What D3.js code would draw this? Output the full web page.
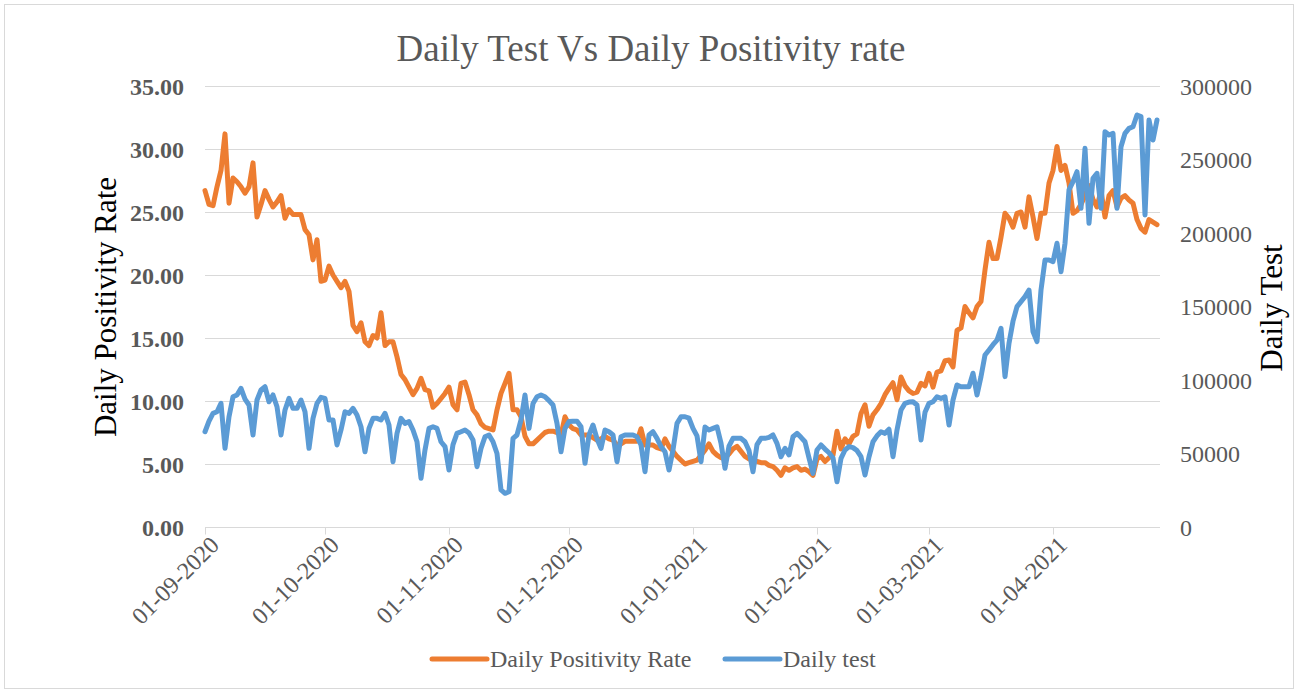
<!DOCTYPE html>
<html>
<head>
<meta charset="utf-8">
<script src="https://cdn.jsdelivr.net/npm/d3@7"></script>
<style>
  body { margin: 0; background: #fff; }
  svg, svg text { font-family: "Liberation Serif", "Times New Roman", serif; }
  .grid line { stroke: #d9d9d9; stroke-width: 1; }
  .axis text { fill: #595959; font-size: 24px; font-family: "Liberation Serif", "Times New Roman", serif; }
  .axis path, .axis line { stroke: #d9d9d9; }
</style>
</head>
<body>
<svg id="chart" width="1297" height="693"></svg>
<script>
// daily values, starting 01-09-2020
var startDate = "2020-09-01";

var positivity = [
  26.7, 25.6, 25.5, 27.0, 28.3, 31.2, 25.7, 27.7, 27.4, 27.0,
  26.5, 27.0, 28.9, 24.6, 25.6, 26.7, 26.0, 25.4, 25.8, 26.3,
  24.5, 25.2, 24.8, 24.8, 24.8, 23.6, 23.2, 21.2, 22.8, 19.5,
  19.6, 20.7, 20.0, 19.5, 19.0, 19.5, 18.7, 16.0, 15.5, 16.2,
  14.7, 14.4, 15.2, 15.0, 17.0, 14.4, 14.7, 14.7, 13.5, 12.1,
  11.7, 11.1, 10.5, 11.0, 11.8, 10.9, 10.8, 9.5, 9.8, 10.2,
  10.6, 11.1, 9.7, 9.3, 11.4, 11.5, 10.5, 9.3, 8.9, 8.2,
  7.9, 7.8, 7.7, 9.3, 10.6, 11.4, 12.2, 9.3, 9.3, 8.75,
  7.2, 6.6, 6.6, 6.9, 7.2, 7.5, 7.6, 7.6, 7.5, 7.3,
  8.75, 8.1, 7.8, 7.7, 7.3, 7.3, 7.3, 7.1, 6.9, 7.0,
  7.2, 7.0, 6.9, 6.5, 6.6, 6.8, 6.8, 6.8, 6.8, 7.8,
  6.5, 6.5, 6.5, 6.3, 6.2, 7.0, 6.4, 6.0, 5.6, 5.3,
  5.0, 5.1, 5.2, 5.3, 5.7, 6.1, 6.6, 6.0, 5.7, 5.5,
  5.5, 5.8, 6.2, 6.4, 6.0, 5.6, 5.4, 5.3, 5.2, 5.1,
  5.1, 4.9, 4.8, 4.5, 4.1, 4.7, 4.5, 4.7, 4.8, 4.5,
  4.6, 4.4, 4.1, 5.4, 5.6, 5.2, 5.5, 5.7, 7.6, 6.2,
  7.0, 6.6, 7.2, 7.4, 9.0, 9.7, 8.0, 8.9, 9.3, 9.8,
  10.5, 11.0, 11.45, 10.1, 11.9, 11.2, 10.8, 10.6, 10.7, 11.4,
  11.2, 12.2, 11.1, 12.3, 12.4, 13.2, 13.25, 12.7, 15.6, 15.8,
  17.5, 17.0, 16.6, 17.5, 17.9, 20.4, 22.6, 21.3, 21.3, 23.0,
  24.9, 24.5, 23.8, 24.9, 25.0, 23.8, 26.2, 24.6, 22.9, 24.9,
  24.9, 27.3, 28.3, 30.2, 28.3, 28.7, 27.3, 24.9, 25.1, 25.6,
  26.3, 27.1, 26.0, 25.4, 26.7, 24.6, 26.3, 26.7, 25.4, 26.1,
  26.3, 25.95, 25.7, 24.4, 23.7, 23.4, 24.4, 24.2, 24.0
];

var tests = [
  64800, 72000, 77300, 78400, 84100, 53500, 75000, 88600, 89800, 94300,
  87000, 83000, 62600, 86400, 93200, 95400, 85200, 89800, 81800, 62600,
  79600, 87500, 80700, 80700, 86400, 78400, 53500, 73900, 84100, 88200,
  87500, 72800, 72800, 55800, 66000, 78400, 77300, 80700, 76200, 68200,
  51200, 67100, 73900, 73900, 72800, 77300, 69400, 44400, 63700, 73900,
  70500, 71700, 66000, 58000, 33100, 52400, 67100, 68200, 67100, 58000,
  54700, 38800, 56000, 63700, 64800, 66000, 64000, 59200, 41000, 53500,
  61400, 62600, 58000, 50000, 25200, 22900, 24000, 60300, 62600, 72800,
  89800, 67100, 84000, 88600, 89800, 88600, 86000, 83000, 70500, 51200,
  67100, 71700, 72000, 72000, 68200, 43300, 62600, 69400, 60000, 53500,
  66000, 64800, 62600, 44400, 61400, 62600, 62600, 62600, 61400, 55800,
  37600, 62600, 64800, 60300, 54700, 51200, 38800, 52400, 70500, 75000,
  75000, 74000, 67100, 62000, 44400, 68000, 66000, 67100, 68200, 57000,
  39900, 55000, 60300, 60300, 60300, 58000, 52000, 37600, 56000, 60300,
  60300, 61000, 62600, 56900, 47800, 53500, 49000, 61400, 63700, 61000,
  58000, 47000, 36500, 52400, 55800, 53000, 50500, 47000, 30800, 46700,
  52400, 54700, 54000, 52000, 47800, 35400, 47800, 58000, 62000, 64800,
  63700, 66500, 47800, 66000, 79600, 84100, 85000, 85200, 83000, 59200,
  78000, 84100, 85200, 88600, 87500, 88600, 69400, 86400, 96600, 95400,
  95400, 95400, 104600, 89800, 102300, 117000, 120400, 124000, 127200, 135200,
  102300, 125000, 140000, 149900, 153300, 156700, 161200, 132900, 126100, 161200,
  181600, 181600, 180500, 193000, 173700, 193000, 229300, 234900, 241700, 216800,
  257600, 206600, 237200, 240600, 216800, 268900, 266700, 267800, 216800, 258700,
  267800, 271200, 272300, 280300, 279200, 212300, 276900, 263300, 276900
];

var leftTicks = [0, 5, 10, 15, 20, 25, 30, 35];
var rightTicks = [0, 50000, 100000, 150000, 200000, 250000, 300000];
var seriesNames = ["Daily Positivity Rate", "Daily test"];
var seriesColors = ["#ed7d31", "#5b9bd5"];

var svg = d3.select("#chart");
var parse = d3.timeParse("%Y-%m-%d");
var day0 = parse(startDate);
var dates = positivity.map(function(d, i) { return d3.timeDay.offset(day0, i); });

var plot = { left: 205, right: 1157, top: 86, bottom: 527 };

var x = d3.scaleTime()
  .domain([dates[0], dates[dates.length - 1]])
  .range([plot.left, plot.right]);
var yLeft = d3.scaleLinear().domain([0, 35]).range([plot.bottom, plot.top]);
var yRight = d3.scaleLinear().domain([0, 300000]).range([plot.bottom, plot.top]);

// outer border
svg.append("rect")
  .attr("x", 4.5).attr("y", 4.5)
  .attr("width", 1289).attr("height", 684)
  .attr("fill", "#fff").attr("stroke", "#d9d9d9");

// title
svg.append("text")
  .attr("x", 651).attr("y", 61)
  .attr("text-anchor", "middle")
  .attr("fill", "#595959")
  .style("font-size", "37px")
  .text("Daily Test Vs Daily Positivity rate");

// gridlines
svg.append("g").attr("class", "grid")
  .selectAll("line")
  .data(leftTicks.slice(1))
  .enter().append("line")
  .attr("x1", plot.left).attr("x2", plot.right + 3)
  .attr("y1", function(d) { return Math.round(yLeft(d)) + 0.5; })
  .attr("y2", function(d) { return Math.round(yLeft(d)) + 0.5; });

// left axis
var gl = svg.append("g").attr("class", "axis")
  .attr("transform", "translate(" + (plot.left - 18) + ",0)")
  .call(d3.axisLeft(yLeft).tickValues(leftTicks).tickSize(0).tickFormat(d3.format(".2f")));
gl.attr("font-family", null);
gl.select(".domain").remove();
gl.selectAll("text").style("font-weight", "bold").attr("dy", "0.35em");

// right axis
var gr = svg.append("g").attr("class", "axis")
  .attr("transform", "translate(" + (plot.right + 20) + ",0)")
  .call(d3.axisRight(yRight).tickValues(rightTicks).tickSize(0).tickFormat(d3.format("d")));
gr.attr("font-family", null);
gr.select(".domain").remove();
gr.selectAll("text").attr("dy", "0.35em");

// bottom axis
var gx = svg.append("g").attr("class", "axis")
  .attr("transform", "translate(0," + (plot.bottom + 0.5) + ")")
  .call(d3.axisBottom(x)
    .ticks(d3.timeMonth.every(1))
    .tickSize(7)
    .tickSizeOuter(0)
    .tickFormat(d3.timeFormat("%d-%m-%Y")));
gx.attr("font-family", null);
gx.select(".domain").attr("d", "M" + plot.left + ",0H" + (plot.right + 3));
gx.selectAll("text")
  .attr("text-anchor", "end")
  .attr("dy", null)
  .attr("transform", "translate(8,12) rotate(-45)");

// axis titles
svg.append("text")
  .attr("transform", "translate(116,307) rotate(-90)")
  .attr("text-anchor", "middle")
  .attr("fill", "#000")
  .style("font-size", "31px")
  .text("Daily Positivity Rate");

svg.append("text")
  .attr("transform", "translate(1282,308) rotate(-90)")
  .attr("text-anchor", "middle")
  .attr("fill", "#000")
  .style("font-size", "31px")
  .text("Daily Test");

// lines
var lineLeft = d3.line()
  .x(function(d, i) { return x(dates[i]); })
  .y(function(d) { return yLeft(d); });
var lineRight = d3.line()
  .x(function(d, i) { return x(dates[i]); })
  .y(function(d) { return yRight(d); });

svg.append("path")
  .datum(positivity)
  .attr("d", lineLeft)
  .attr("fill", "none")
  .attr("stroke", seriesColors[0])
  .attr("stroke-width", 5)
  .attr("stroke-linejoin", "round")
  .attr("stroke-linecap", "round");

svg.append("path")
  .datum(tests)
  .attr("d", lineRight)
  .attr("fill", "none")
  .attr("stroke", seriesColors[1])
  .attr("stroke-width", 5)
  .attr("stroke-linejoin", "round")
  .attr("stroke-linecap", "round");

// legend
var legendX = [432, 725];
var legend = svg.append("g");
seriesNames.forEach(function(name, i) {
  legend.append("line")
    .attr("x1", legendX[i]).attr("x2", legendX[i] + 55)
    .attr("y1", 659).attr("y2", 659)
    .attr("stroke", seriesColors[i])
    .attr("stroke-width", 5)
    .attr("stroke-linecap", "round");
  legend.append("text")
    .attr("x", legendX[i] + 58).attr("y", 667)
    .attr("fill", "#595959")
    .style("font-size", "24px")
    .text(name);
});
</script>
</body>
</html>
